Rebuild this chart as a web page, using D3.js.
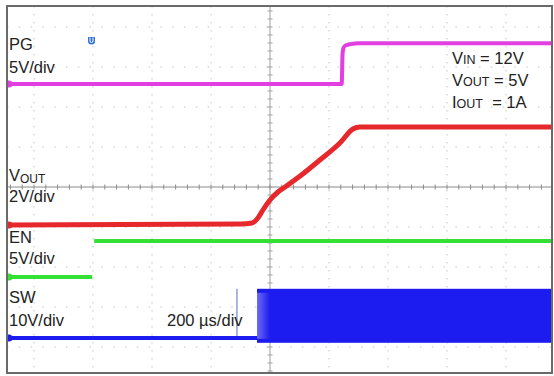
<!DOCTYPE html>
<html lang="en">
<head>
<meta charset="UTF-8">
<title>Start-up waveform</title>
<script src="https://d3js.org/d3.v7.min.js"></script>
<style>
  body { margin: 0; background: #fff; }
  svg text { font-family: "Liberation Sans", Arial, sans-serif; fill: #222; }
</style>
</head>
<body>
<svg width="554" height="376"></svg>
<script>
// time in microseconds, 200 us/div, 0 at screen centre
const pgTime   = [-890, 243, 246, 250, 258, 275, 300, 960];
const pgVolt   = [0, 0, 3.8, 4.6, 4.85, 5.0, 5.1, 5.1];

const voutTime = [-890, -100, -61, -41, -24, 0, 27, 51, 102, 169, 237, 281, 305, 960];
const voutVolt = [0, 0.05, 0.1, 0.35, 0.75, 1.25, 1.65, 1.9, 2.45, 3.25, 4.1, 4.8, 4.9, 4.9];

// null = fast edge that the scope does not paint
const enTime   = [-890, -603, -600, -596, 960];
const enVolt   = [0, 0, null, 4.5, 4.5];

const swTime   = [-890, -44];
const swVolt   = [0, 0];
const swSpikeTime = -112;
const swSpikeVolt = 12.3;
const swBurstStart = -44;
const swBurstHigh  = 12.3;
const swBurstLow   = -1.2;

// volts per division and 0 V position in divisions from centre
const chNames  = ["PG", "VOUT", "EN", "SW"];
const chVdiv   = [5, 2, 5, 10];
const chZero   = [2.575, -0.95, -2.25, -3.775];
const chColors = ["#e23ee2", "#e6282c", "#33e033", "#1c1cf0"];

const condLabels = [["V", "IN", " = 12V"], ["V", "OUT", " = 5V"], ["I", "OUT", "  = 1A"]];

const svg = d3.select("svg");
const frame = { x: 7, y: 6, w: 545, h: 367 };

const x = d3.scaleLinear().domain([-1000, 1000]).range([270 - 5 * 59, 270 + 5 * 59]);
const y = d3.scaleLinear().domain([-4, 4]).range([187 + 160, 187 - 160]);

const defs = svg.append("defs");
defs.append("clipPath").attr("id", "clip")
  .append("rect").attr("x", frame.x + 1).attr("y", frame.y + 1)
  .attr("width", frame.w - 2).attr("height", frame.h - 2);

const g = svg.append("g").attr("clip-path", "url(#clip)");

// dotted graticule
const vDivs = d3.range(-5, 6).filter(d => d !== 0).map(d => d * 200);
const hDivs = d3.range(-4, 5).filter(d => d !== 0);
g.selectAll(".vg").data(vDivs).join("line")
  .attr("x1", d => x(d)).attr("x2", d => x(d))
  .attr("y1", frame.y).attr("y2", frame.y + frame.h)
  .attr("stroke", "#c4c4c4").attr("stroke-width", 1).attr("stroke-dasharray", "1.5,6.5");
g.selectAll(".hg").data(hDivs).join("line")
  .attr("x1", frame.x).attr("x2", frame.x + frame.w)
  .attr("y1", d => y(d)).attr("y2", d => y(d))
  .attr("stroke", "#c4c4c4").attr("stroke-width", 1).attr("stroke-dasharray", "1.5,10.3");

// centre cross with minor ticks
g.append("line").attr("x1", frame.x).attr("x2", frame.x + frame.w)
  .attr("y1", y(0)).attr("y2", y(0)).attr("stroke", "#8a8a8a").attr("stroke-width", 1);
g.append("line").attr("x1", x(0)).attr("x2", x(0))
  .attr("y1", frame.y).attr("y2", frame.y + frame.h).attr("stroke", "#a0a0a0").attr("stroke-width", 1);
g.selectAll(".xt").data(d3.range(-25, 26).map(d => d * 40)).join("line")
  .attr("x1", d => x(d)).attr("x2", d => x(d))
  .attr("y1", y(0) - 2.5).attr("y2", y(0) + 2.5).attr("stroke", "#8a8a8a");
g.selectAll(".yt").data(d3.range(-25, 26).map(d => d * 0.2)).join("line")
  .attr("x1", x(0) - 2.5).attr("x2", x(0) + 2.5)
  .attr("y1", d => y(d)).attr("y2", d => y(d)).attr("stroke", "#a0a0a0");

function chY(ch, v) { return y(chZero[ch] + v / chVdiv[ch]); }

// SW burst area
g.append("rect")
  .attr("x", x(swBurstStart)).attr("y", chY(3, swBurstHigh))
  .attr("width", x(1000) - x(swBurstStart))
  .attr("height", chY(3, swBurstLow) - chY(3, swBurstHigh))
  .attr("fill", chColors[3]);
const grad = defs.append("linearGradient").attr("id", "fade")
  .attr("x1", 0).attr("x2", 1).attr("y1", 0).attr("y2", 0);
grad.append("stop").attr("offset", 0).attr("stop-color", "#fff").attr("stop-opacity", 0.35);
grad.append("stop").attr("offset", 1).attr("stop-color", "#fff").attr("stop-opacity", 0);
g.append("rect")
  .attr("x", x(swBurstStart)).attr("y", chY(3, swBurstHigh - 1))
  .attr("width", x(0) - x(swBurstStart))
  .attr("height", chY(3, swBurstLow + 1) - chY(3, swBurstHigh - 1))
  .attr("fill", "url(#fade)");

// SW glitch before the burst
g.append("line")
  .attr("x1", x(swSpikeTime)).attr("x2", x(swSpikeTime))
  .attr("y1", chY(3, 0)).attr("y2", chY(3, swSpikeVolt))
  .attr("stroke", "#5a6fb8").attr("stroke-width", 1);

const traces = [
  [pgTime, pgVolt, 4],
  [voutTime, voutVolt, 5],
  [enTime, enVolt, 4],
  [swTime, swVolt, 4]
];
traces.forEach(([t, v, w], ch) => {
  const pts = t.map((d, i) => [d, v[i]]);
  const ln = d3.line()
    .defined(d => d[1] !== null)
    .x(d => x(d[0])).y(d => chY(ch, d[1]))
    .curve(d3.curveMonotoneX);
  g.append("path").datum(pts)
    .attr("fill", "none")
    .attr("stroke", chColors[ch])
    .attr("stroke-width", w)
    .attr("stroke-linejoin", "round")
    .attr("d", ln);
  // ground marker at left edge
  g.append("circle").attr("cx", frame.x + 2).attr("cy", chY(ch, v[0]))
    .attr("r", 3.5).attr("fill", chColors[ch]);
});

// trigger marker
const trig = svg.append("g").attr("transform", `translate(${x(-605)},41)`);
trig.append("path").attr("d", "M-3.5,-4 h7 v4 a3.5,3.5 0 0 1 -7,0 z").attr("fill", "#2e72d2");
trig.append("path").attr("d", "M-1.5,-3.5 v3.5 a1.5,1.5 0 0 0 3,0 v-3.5").attr("fill", "none")
  .attr("stroke", "#fff").attr("stroke-width", 1);

// frame
svg.append("rect").attr("x", frame.x).attr("y", frame.y)
  .attr("width", frame.w).attr("height", frame.h)
  .attr("fill", "none").attr("stroke", "#6a6a6a").attr("stroke-width", 2);

// channel labels
const fs = 16.5;
function label(xp, yp, txt) {
  return svg.append("text").attr("x", xp).attr("y", yp).attr("font-size", fs).text(txt);
}
label(9, 50, chNames[0]);
label(9, 73, chVdiv[0] + "V/div");
const vo = svg.append("text").attr("x", 9).attr("y", 181).attr("font-size", fs);
vo.append("tspan").text("V");
vo.append("tspan").attr("font-size", 12).attr("dy", 2).text("OUT");
label(9, 202, chVdiv[1] + "V/div");
label(9, 243, chNames[2]);
label(9, 264, chVdiv[2] + "V/div");
label(9, 303, chNames[3]);
label(9, 326, chVdiv[3] + "V/div");
label(167, 326, "200 \u00b5s/div");

condLabels.forEach((c, i) => {
  const t = svg.append("text").attr("x", 452).attr("y", 64 + i * 22)
    .attr("font-size", fs).attr("xml:space", "preserve").style("white-space", "pre");
  t.append("tspan").text(c[0]);
  t.append("tspan").attr("font-size", 12.5).text(c[1]);
  t.append("tspan").text(c[2]);
});
</script>
</body>
</html>
